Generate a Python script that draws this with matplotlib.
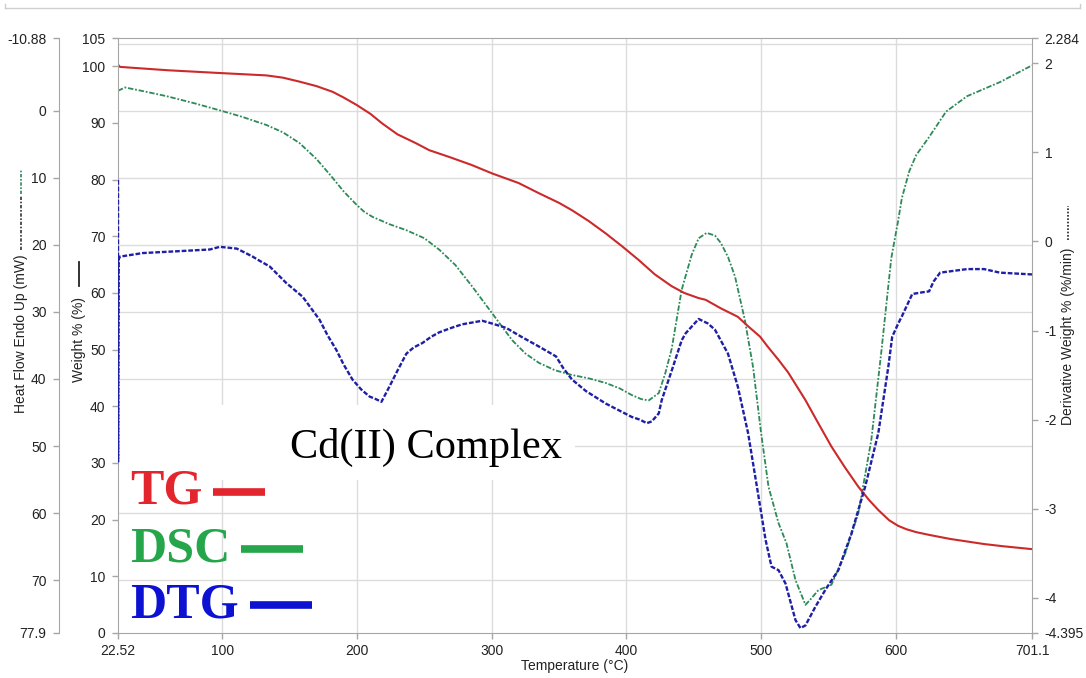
import matplotlib
matplotlib.use("Agg")
import matplotlib.pyplot as plt
from matplotlib.lines import Line2D
from matplotlib.patches import Rectangle

# ---- TG: weight % vs temperature ----
tg_temp = [22.52, 24.0, 60.0, 99.6, 132.7, 145.0, 157.3, 170.0, 181.9, 190.0,
           199.6, 210.0, 218.8, 230.0, 244.0, 253.6, 268.5, 285.0, 300.3, 320.0,
           335.1, 350.0, 359.6, 372.0, 384.7, 397.0, 409.2, 421.0, 433.6, 443.0,
           453.6, 458.8, 470.0, 482.7, 490.0, 499.2, 505.0, 512.9, 520.0, 532.9,
           542.0, 552.2, 562.0, 572.2, 580.0, 587.0, 595.0, 601.8, 608.0, 615.1,
           625.0, 640.3, 665.5, 680.0, 701.1]
tg_weight = [100.3, 99.9, 99.3, 98.8, 98.4, 98.0, 97.3, 96.5, 95.5, 94.5,
             93.2, 91.6, 89.9, 88.0, 86.4, 85.2, 84.0, 82.6, 81.1, 79.4,
             77.6, 75.9, 74.6, 72.7, 70.5, 68.2, 65.8, 63.3, 61.2, 60.0,
             59.1, 58.8, 57.3, 55.8, 54.2, 52.3, 50.5, 48.2, 46.0, 41.1,
             37.2, 32.9, 29.3, 25.8, 23.5, 21.7, 19.9, 18.9, 18.3, 17.8,
             17.3, 16.6, 15.7, 15.3, 14.8]

# ---- DSC: heat flow (mW) vs temperature ----
dsc_temp = [22.52, 27.7, 40.0, 58.6, 80.0, 99.6, 115.0, 132.7, 145.0, 157.3,
            170.0, 181.9, 190.0, 199.6, 205.0, 211.4, 224.0, 236.6, 250.0, 261.0,
            273.0, 285.5, 300.3, 315.1, 325.0, 335.1, 347.0, 359.6, 372.0, 384.7,
            395.0, 404.0, 411.0, 416.5, 424.0, 428.9, 433.6, 441.0, 448.4, 453.6,
            459.6, 465.7, 470.1, 475.4, 480.6, 487.9, 494.0, 500.0, 505.5, 512.9,
            518.8, 525.5, 532.9, 537.0, 542.5, 552.2, 562.5, 572.2, 581.8, 589.2,
            596.6, 601.8, 604.5, 610.0, 615.1, 624.7, 637.3, 652.9, 677.3, 701.1]
dsc_heat = [-3.0, -3.5, -3.0, -2.2, -1.1, 0.0, 0.9, 2.1, 3.2, 4.8,
            7.2, 10.0, 12.0, 14.0, 15.0, 15.8, 16.9, 17.8, 19.0, 20.7,
            23.0, 26.2, 30.2, 34.2, 36.2, 37.6, 38.7, 39.4, 39.9, 40.6,
            41.4, 42.4, 43.0, 43.2, 42.1, 39.1, 35.5, 26.7, 21.5, 19.0,
            18.2, 18.6, 19.7, 21.8, 24.7, 31.2, 38.2, 48.1, 56.1, 61.5,
            64.5, 70.0, 73.7, 72.8, 71.5, 70.7, 66.0, 60.0, 49.1, 36.0,
            22.0, 16.3, 13.0, 9.0, 6.6, 3.9, 0.1, -2.2, -4.3, -6.8]

# ---- DTG: derivative weight (%/min) vs temperature ----
dtg_temp = [22.52, 22.6, 23.0, 24.0, 41.0, 66.2, 90.7, 98.1, 110.7, 116.0,
            122.5, 128.0, 135.1, 147.7, 159.6, 172.2, 178.0, 184.7, 190.0, 196.6,
            203.0, 209.2, 214.0, 218.1, 224.0, 230.0, 236.6, 242.0, 248.5, 255.0,
            261.0, 270.0, 278.0, 285.5, 292.9, 300.0, 310.7, 322.0, 335.1, 347.7,
            353.0, 359.6, 370.0, 384.7, 395.0, 404.0, 410.0, 415.1, 418.8, 424.0,
            426.2, 433.6, 441.0, 444.0, 453.6, 460.4, 465.7, 475.4, 482.7, 490.3,
            497.7, 503.3, 507.7, 512.9, 518.1, 525.5, 529.2, 532.9, 540.3, 547.7,
            557.3, 567.0, 577.3, 587.0, 594.4, 597.3, 601.8, 604.5, 612.2, 620.0,
            624.7, 628.0, 632.9, 652.9, 665.5, 677.3, 701.1]
dtg_deriv = [0.69, -2.47, -0.20, -0.17, -0.13, -0.11, -0.09, -0.06, -0.08, -0.12,
             -0.17, -0.22, -0.28, -0.47, -0.62, -0.88, -1.05, -1.22, -1.38, -1.55,
             -1.66, -1.74, -1.77, -1.80, -1.63, -1.45, -1.26, -1.19, -1.14, -1.07,
             -1.02, -0.97, -0.93, -0.91, -0.89, -0.92, -0.97, -1.07, -1.18, -1.29,
             -1.42, -1.55, -1.68, -1.82, -1.90, -1.97, -2.00, -2.04, -2.02, -1.93,
             -1.78, -1.45, -1.11, -1.03, -0.87, -0.92, -0.99, -1.26, -1.63, -2.15,
             -2.83, -3.35, -3.65, -3.69, -3.84, -4.25, -4.34, -4.31, -4.10, -3.91,
             -3.69, -3.28, -2.75, -2.15, -1.41, -1.07, -0.92, -0.84, -0.59, -0.57,
             -0.56, -0.45, -0.35, -0.31, -0.31, -0.35, -0.37]

# ---- axis ticks ----
x_ticks = [22.52, 100, 200, 300, 400, 500, 600, 701.1]
x_labels = ["22.52", "100", "200", "300", "400", "500", "600", "701.1"]
heat_ticks = [-10.88, 0, 10, 20, 30, 40, 50, 60, 70, 77.9]
heat_labels = ["-10.88", "0", "10", "20", "30", "40", "50", "60", "70", "77.9"]
weight_ticks = [0, 10, 20, 30, 40, 50, 60, 70, 80, 90, 100, 105]
weight_labels = ["0", "10", "20", "30", "40", "50", "60", "70", "80", "90", "100", "105"]
deriv_ticks = [-4.395, -4, -3, -2, -1, 0, 1, 2, 2.284]
deriv_labels = ["-4.395", "-4", "-3", "-2", "-1", "0", "1", "2", "2.284"]
grid_heat = [-10, 0, 10, 20, 30, 40, 50, 60, 70]
grid_temp = [100, 200, 300, 400, 500, 600]

plt.rcParams["font.family"] = ["Liberation Sans", "DejaVu Sans"]
W, H = 1086, 678
fig = plt.figure(figsize=(W / 100, H / 100), dpi=100)
fx = lambda px: px / W
fy = lambda py: 1 - py / H

spine_c = "#a6a6a6"
grid_c = "#dcdcdc"
text_c = "#222222"
fs = 10

ax_h = fig.add_axes([fx(118), fy(633), 914 / W, 595 / H])
ax_w = ax_h.twinx()
ax_d = ax_h.twinx()

# grid on host axes
for g in grid_heat:
    ax_h.axhline(g, color=grid_c, lw=1, zorder=0)
for g in grid_temp:
    ax_h.axvline(g, color=grid_c, lw=1, zorder=0)

ax_h.set_xlim(22.52, 701.1)
ax_h.set_ylim(77.9, -10.88)
ax_w.set_ylim(0, 105)
ax_d.set_ylim(-4.395, 2.284)

# curves
ax_h.plot(dsc_temp, dsc_heat, color="#2e8a58", lw=1.3,
          linestyle=(0, (3, 1, 1, 1)), zorder=2)
ax_w.plot(tg_temp, tg_weight, color="#cc2a2a", lw=1.5, zorder=2)
ax_d.plot(dtg_temp, dtg_deriv, color="#1f1fa6", lw=1.7,
          linestyle=(0, (2, 0.8)), zorder=2)

# heat-flow axis (outer left)
ax_h.spines["left"].set_position(("axes", -0.0645))
ax_h.spines["right"].set_visible(False)
for s in ["left", "bottom", "top"]:
    ax_h.spines[s].set_color(spine_c)
ax_h.yaxis.tick_left()
ax_h.set_yticks(heat_ticks)
ax_h.set_yticklabels(heat_labels)
ax_h.set_xticks(x_ticks)
ax_h.set_xticklabels(x_labels)
ax_h.tick_params(axis="both", colors=spine_c, labelcolor=text_c,
                 labelsize=fs, length=4, width=1)
ax_h.tick_params(axis="y", pad=5)
ax_h.tick_params(axis="x", pad=4)

# weight axis (inner left)
for s in ["right", "top", "bottom"]:
    ax_w.spines[s].set_visible(False)
ax_w.spines["left"].set_visible(True)
ax_w.spines["left"].set_color(spine_c)
ax_w.yaxis.tick_left()
ax_w.set_yticks(weight_ticks)
ax_w.set_yticklabels(weight_labels)
ax_w.tick_params(axis="y", colors=spine_c, labelcolor=text_c,
                 labelsize=fs, length=4, width=1, pad=5)

# derivative axis (right)
for s in ["left", "top", "bottom"]:
    ax_d.spines[s].set_visible(False)
ax_d.spines["right"].set_color(spine_c)
ax_d.set_yticks(deriv_ticks)
ax_d.set_yticklabels(deriv_labels)
ax_d.tick_params(axis="y", colors=spine_c, labelcolor=text_c,
                 labelsize=fs, length=4, width=1, pad=5)

# axis titles
fig.text(fx(575), fy(666), "Temperature (°C)", ha="center", va="center",
         fontsize=fs, color=text_c)
fig.text(fx(21), fy(334), "Heat Flow Endo Up (mW)", rotation=90,
         ha="center", va="center", fontsize=fs, color=text_c)
fig.add_artist(Line2D([fx(21), fx(21)], [fy(250), fy(196)], color="#333333",
                      lw=1.2, linestyle=(0, (2, 1, 1, 1))))
fig.add_artist(Line2D([fx(21), fx(21)], [fy(194), fy(170)], color="#2e8a58",
                      lw=1.2, linestyle=(0, (2, 1, 1, 1))))
fig.text(fx(79), fy(340), "Weight % (%)", rotation=90,
         ha="center", va="center", fontsize=fs, color=text_c)
fig.add_artist(Line2D([fx(79), fx(79)], [fy(286), fy(262)], color="#222222",
                      lw=1.3))
fig.text(fx(1068), fy(336), "Derivative Weight % (%/min)", rotation=90,
         ha="center", va="center", fontsize=fs, color=text_c)
fig.add_artist(Line2D([fx(1068), fx(1068)], [fy(240), fy(206)], color="#222222",
                      lw=1.2, linestyle=(0, (1, 1))))

# thin frame line across the top of the page
fig.add_artist(Line2D([fx(5), fx(1080)], [fy(8), fy(8)], color="#cfcfcf", lw=1))
fig.add_artist(Line2D([fx(5), fx(5)], [fy(8), fy(4)], color="#cfcfcf", lw=1))
fig.add_artist(Line2D([fx(1080), fx(1080)], [fy(8), fy(4)], color="#cfcfcf", lw=1))

# white panel behind the sample title
fig.add_artist(Rectangle((fx(120), fy(480)), fx(575) - fx(120), fy(405) - fy(480),
                         facecolor="white", edgecolor="none", zorder=1))
fig.text(fx(290), fy(458), "Cd(II) Complex", family="Liberation Serif",
         fontsize=30.5, ha="left", va="baseline", color="black", zorder=3)

# curve key
key = [("TG", "#e3262d", 503, 213, 265, 492),
       ("DSC", "#25a64b", 561, 241, 303, 549),
       ("DTG", "#0d12d2", 618, 250, 312, 605)]
for name, col, base, x0, x1, ly in key:
    fig.text(fx(130), fy(base), name, family="Liberation Serif",
             fontweight="bold", fontsize=36, color=col, ha="left",
             va="baseline", zorder=3)
    fig.add_artist(Line2D([fx(x0), fx(x1)], [fy(ly), fy(ly)], color=col,
                          lw=5.5, solid_capstyle="butt", zorder=3))

fig.savefig("out.png", dpi=100, facecolor="white")
